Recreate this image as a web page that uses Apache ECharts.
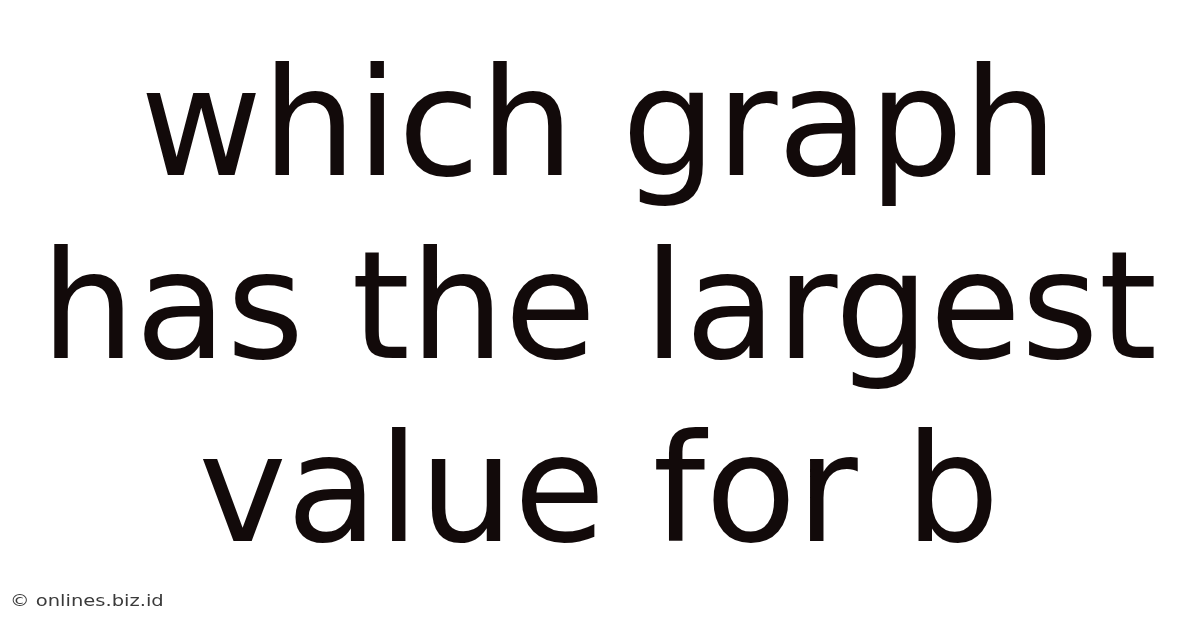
<!DOCTYPE html>
<html>
<head>
<meta charset="utf-8">
<script src="https://cdn.jsdelivr.net/npm/echarts@6/dist/echarts.min.js"></script>
<style>
html,body{margin:0;padding:0;background:#fff;}
#c{width:1200px;height:628px;}
</style>
</head>
<body>
<div id="c"></div>
<script>
var titleLines = ['which graph', 'has the largest', 'value for b'];
var watermark = '\u00a9 onlines.biz.id';

var chart = echarts.init(document.getElementById('c'), null, {renderer: 'canvas'});
var elements = titleLines.map(function (t, i) {
  return {
    type: 'text',
    x: 599,
    y: 136 + i * 183,
    style: {
      text: t,
      fill: '#120a0a',
      font: '149px "DejaVu Sans"',
      align: 'center',
      verticalAlign: 'middle'
    }
  };
});
elements.push({
  type: 'text',
  x: 10,
  y: 602,
  scaleX: 1.22,
  style: {
    text: watermark,
    fill: '#3a3a3a',
    font: '16px "DejaVu Sans"',
    align: 'left',
    verticalAlign: 'middle'
  }
});
chart.setOption({
  backgroundColor: '#ffffff',
  animation: false,
  graphic: {elements: elements}
});
</script>
</body>
</html>
